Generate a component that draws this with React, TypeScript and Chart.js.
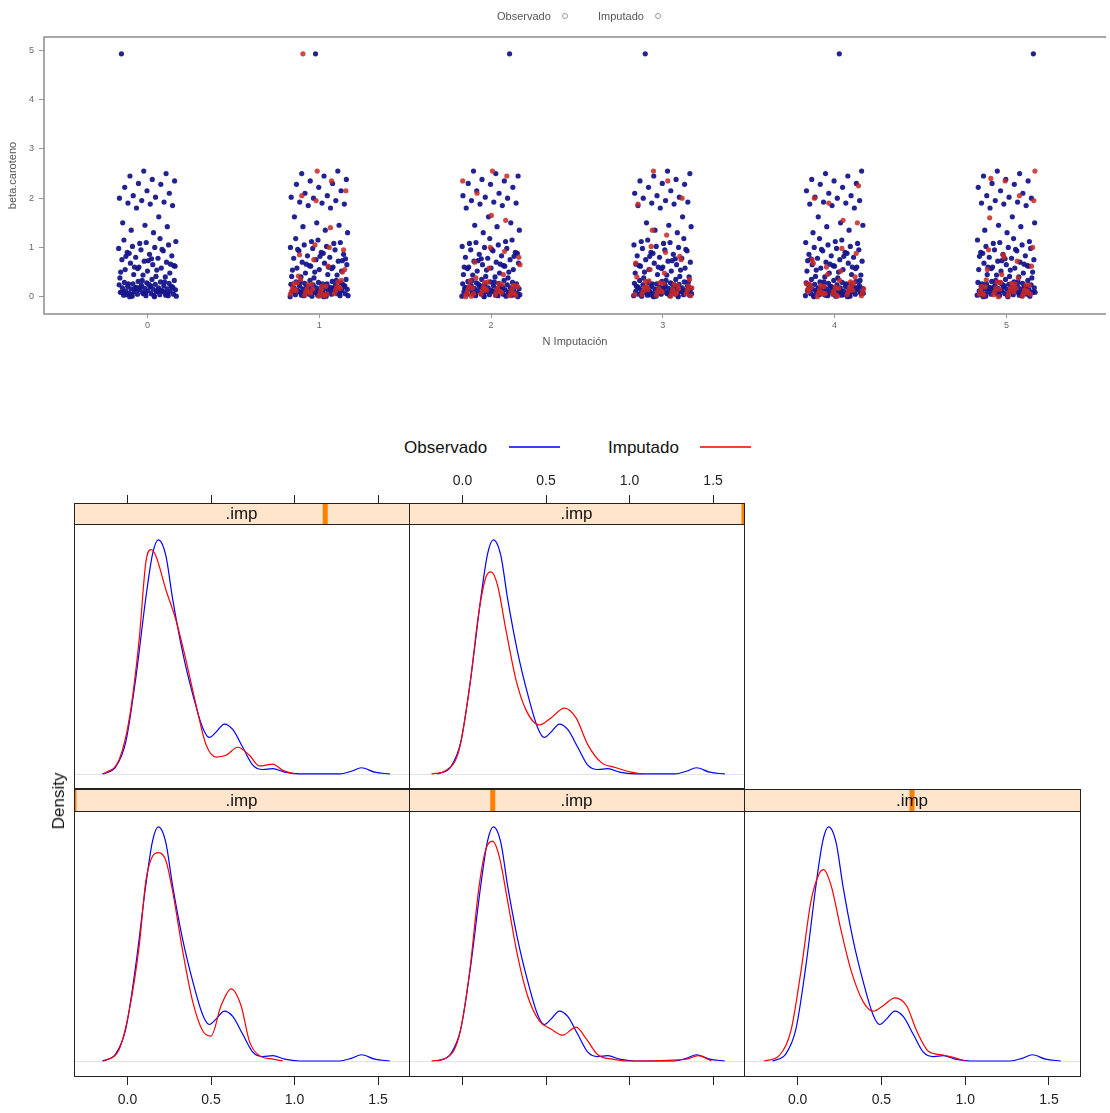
import React, { useEffect, useRef } from 'react';
import { Chart, registerables } from 'chart.js';

Chart.register(...registerables);
Chart.defaults.font.family = '"Liberation Sans", Arial, Helvetica, sans-serif';

// ---------------- Strip plot (top) data ----------------
const imputationNumbers = [0, 1, 2, 3, 4, 5];
const betaTicks = [0, 1, 2, 3, 4, 5];

const observedBeta = [
  0.0, 0.01, 0.02, 0.02, 0.03, 0.04, 0.05, 0.05, 0.06, 0.07, 0.08, 0.08, 0.09, 0.1, 0.1, 0.11,
  0.12, 0.12, 0.13, 0.14, 0.14, 0.15, 0.16, 0.16, 0.17, 0.18, 0.18, 0.19, 0.2, 0.2, 0.21, 0.22,
  0.23, 0.24, 0.25, 0.26, 0.27, 0.28, 0.29, 0.3, 0.31, 0.33, 0.35, 0.0, 0.03, 0.06, 0.09, 0.13,
  0.17, 0.21, 0.25, 0.04, 0.11, 0.19, 0.01, 0.02, 0.04, 0.06, 0.07, 0.09, 0.12, 0.15, 0.18, 0.22,
  0.26, 0.3, 0.33,
  0.38, 0.41, 0.45, 0.48, 0.52, 0.55, 0.58, 0.6, 0.62, 0.65, 0.68, 0.7, 0.72, 0.75, 0.78, 0.8,
  0.83, 0.86, 0.9, 0.93, 0.95, 0.98, 1.0, 1.02, 1.05, 1.1, 1.15, 1.18, 0.57, 0.63, 0.77, 0.88,
  0.4, 0.44, 0.5, 0.54, 0.6, 0.66, 0.73, 0.82, 0.96, 1.08, 1.12,
  1.3, 1.35, 1.42, 1.45, 1.5, 1.62, 1.8, 1.85, 1.88, 1.9, 1.92, 1.95, 2.0, 2.02, 2.05, 2.1, 2.15,
  2.22, 2.28, 2.3, 2.35, 2.38, 2.45, 2.5, 2.55,
  4.93,
];
const imputedBeta1 = [0.01, 0.03, 0.05, 0.06, 0.08, 0.1, 0.11, 0.13, 0.15, 0.16, 0.18, 0.2, 0.22, 0.24, 0.27, 0.3, 0.04, 0.09, 0.14, 0.19, 0.02, 0.07, 0.12, 0.17, 0.21, 0.25, 0.28, 0.33, 0.05, 0.15, 0.42, 0.5, 0.62, 0.75, 0.85, 0.95, 1.0, 1.05, 0.35, 0.55, 1.4, 1.95, 2.05, 2.15, 2.35, 2.55, 4.93];
const imputedBeta2 = [0.0, 0.02, 0.04, 0.05, 0.07, 0.09, 0.1, 0.12, 0.14, 0.15, 0.17, 0.19, 0.21, 0.23, 0.26, 0.29, 0.32, 0.06, 0.11, 0.16, 0.01, 0.03, 0.08, 0.13, 0.18, 0.22, 0.25, 0.3, 0.06, 0.2, 0.45, 0.58, 0.7, 0.8, 0.92, 1.0, 0.38, 0.65, 1.55, 1.65, 2.1, 2.35, 2.45, 2.55];
const imputedBeta3 = [0.01, 0.03, 0.04, 0.06, 0.08, 0.09, 0.11, 0.13, 0.15, 0.17, 0.19, 0.22, 0.25, 0.28, 0.31, 0.35, 0.05, 0.12, 0.2, 0.02, 0.07, 0.1, 0.14, 0.18, 0.23, 0.27, 0.32, 0.04, 0.16, 0.48, 0.55, 0.68, 0.82, 0.9, 1.02, 0.4, 0.75, 1.25, 1.35, 1.88, 2.0, 2.35, 2.55];
const imputedBeta4 = [0.0, 0.02, 0.04, 0.06, 0.07, 0.09, 0.1, 0.12, 0.14, 0.16, 0.18, 0.2, 0.23, 0.26, 0.3, 0.03, 0.08, 0.15, 0.22, 0.01, 0.05, 0.11, 0.13, 0.17, 0.21, 0.25, 0.28, 0.33, 0.06, 0.19, 0.4, 0.52, 0.6, 0.75, 0.88, 0.98, 0.45, 0.68, 1.5, 1.55, 1.9, 2.0, 2.25];
const imputedBeta5 = [0.01, 0.02, 0.04, 0.05, 0.07, 0.09, 0.11, 0.13, 0.14, 0.16, 0.18, 0.21, 0.24, 0.27, 0.3, 0.06, 0.12, 0.19, 0.0, 0.03, 0.08, 0.1, 0.15, 0.2, 0.23, 0.26, 0.29, 0.34, 0.05, 0.17, 0.45, 0.55, 0.62, 0.72, 0.85, 0.95, 1.0, 0.38, 0.8, 1.6, 1.95, 2.05, 2.35, 2.4, 2.55];
const imputedByNumber: number[][] = [[], imputedBeta1, imputedBeta2, imputedBeta3, imputedBeta4, imputedBeta5];

// ---------------- Density panels data ----------------
const densityTicks = [0, 0.5, 1.0, 1.5];

const obsDensX = [-0.15, -0.07, -0.01, 0.05, 0.11, 0.15, 0.185, 0.23, 0.27, 0.33, 0.39, 0.45, 0.49, 0.53, 0.58, 0.63, 0.69, 0.75, 0.81, 0.87, 0.94, 1.03, 1.27, 1.34, 1.4, 1.48, 1.57];
const obsDensY = [0, 0.08, 0.36, 1.08, 1.98, 2.47, 2.63, 2.45, 1.97, 1.37, 0.9, 0.52, 0.41, 0.47, 0.56, 0.5, 0.3, 0.1, 0.05, 0.06, 0.02, 0, 0, 0.03, 0.07, 0.02, 0];

const impDens1X = [-0.14, -0.05, 0.01, 0.07, 0.11, 0.15, 0.185, 0.23, 0.27, 0.33, 0.39, 0.45, 0.5, 0.56, 0.62, 0.68, 0.73, 0.79, 0.87, 0.93];
const impDens1Y = [0, 0.13, 0.56, 1.29, 2.02, 2.3, 2.34, 2.25, 1.91, 1.24, 0.67, 0.34, 0.28, 0.62, 0.81, 0.62, 0.22, 0.06, 0.02, 0];

const impDens2X = [-0.185, -0.1, -0.02, 0.04, 0.1, 0.14, 0.18, 0.22, 0.27, 0.33, 0.39, 0.46, 0.53, 0.6, 0.68, 0.74, 0.81, 0.9, 0.98, 1.07, 1.34, 1.41, 1.49];
const impDens2Y = [0, 0.03, 0.28, 0.96, 1.97, 2.38, 2.47, 2.3, 1.8, 1.18, 0.73, 0.45, 0.36, 0.29, 0.38, 0.25, 0.07, 0.02, 0, 0, 0.02, 0.06, 0];

const impDens3X = [-0.2, -0.11, -0.04, 0.02, 0.08, 0.13, 0.155, 0.2, 0.26, 0.32, 0.39, 0.45, 0.51, 0.58, 0.65, 0.71, 0.78, 0.86, 0.93, 1.0];
const impDens3Y = [0, 0.06, 0.34, 1.01, 1.8, 2.11, 2.15, 1.97, 1.46, 1.01, 0.67, 0.56, 0.62, 0.71, 0.62, 0.34, 0.11, 0.07, 0.04, 0];

const impDens4X = [-0.14, -0.05, 0.01, 0.07, 0.11, 0.14, 0.17, 0.23, 0.29, 0.35, 0.41, 0.47, 0.53, 0.59, 0.66, 0.73, 0.79, 0.87, 0.93, 1.0];
const impDens4Y = [0, 0.16, 0.61, 1.51, 2.38, 2.52, 2.45, 2.07, 1.73, 1.28, 0.78, 0.33, 0.19, 0.21, 0.3, 0.21, 0.09, 0.11, 0.04, 0];

const impDens5X = [-0.185, -0.1, -0.02, 0.04, 0.1, 0.14, 0.17, 0.21, 0.26, 0.32, 0.38, 0.46, 0.53, 0.61, 0.68, 0.75, 0.83, 0.92, 1.01, 1.07];
const impDens5Y = [0, 0.04, 0.27, 0.94, 1.84, 2.21, 2.27, 2.12, 1.62, 1.06, 0.72, 0.55, 0.63, 0.74, 0.63, 0.33, 0.13, 0.07, 0.02, 0];

const FONT = '"Liberation Sans", Arial, Helvetica, sans-serif';

// deterministic horizontal spread (visual jitter only)
const jitterObs = (i: number, k: number) => ((((i + 1) * 0.6180339887 + k * 0.3819660113) % 1) - 0.5) * 0.34;
const jitterImp = (i: number, k: number) => ((((i + 1) * 0.7548776662 + k * 0.569840291 + 0.17) % 1) - 0.5) * 0.34;

function StripChart() {
  const ref = useRef<HTMLCanvasElement>(null);
  useEffect(() => {
    const obsPts: { x: number; y: number }[] = [];
    imputationNumbers.forEach((k) => observedBeta.forEach((v, i) => obsPts.push({ x: k + jitterObs(i, k), y: v })));
    const impPts: { x: number; y: number }[] = [];
    imputationNumbers.forEach((k) => imputedByNumber[k].forEach((v, i) => impPts.push({ x: k + jitterImp(i, k), y: v })));

    const framePlugin = {
      id: 'frame',
      afterDraw(c: any) {
        const { ctx, chartArea: a } = c;
        ctx.save();
        ctx.strokeStyle = '#8c8c8c';
        ctx.lineWidth = 1.5;
        ctx.beginPath();
        ctx.moveTo(a.right, a.top);
        ctx.lineTo(a.left, a.top);
        ctx.lineTo(a.left, a.bottom);
        ctx.lineTo(a.right, a.bottom);
        ctx.stroke();
        ctx.restore();
      },
    };

    const chart = new Chart(ref.current as HTMLCanvasElement, {
      type: 'scatter',
      data: {
        datasets: [
          { label: 'Observado', order: 1, data: obsPts, backgroundColor: 'rgba(22,22,140,0.95)', pointRadius: 2.6, borderWidth: 0 },
          { label: 'Imputado', order: 0, data: impPts, backgroundColor: 'rgba(200,40,35,0.85)', pointRadius: 2.6, borderWidth: 0 },
        ],
      },
      options: {
        animation: false,
        responsive: false,
        maintainAspectRatio: false,
        layout: { padding: { top: 37, right: 0, left: 0, bottom: 0 } },
        plugins: { legend: { display: false }, tooltip: { enabled: false } },
        scales: {
          x: {
            type: 'linear',
            min: -0.603,
            max: 5.58,
            afterBuildTicks: (s: any) => { s.ticks = imputationNumbers.map((v) => ({ value: v })); },
            afterFit: (s: any) => { s.height = 46; },
            grid: { drawOnChartArea: false, drawTicks: true, tickLength: 4, color: '#999' },
            border: { display: false },
            ticks: { font: { size: 9 }, color: '#666', padding: 2, maxRotation: 0, autoSkip: false, callback: (v: any) => String(v) },
            title: { display: true, text: 'N Imputación', font: { size: 11 }, color: '#555', padding: { top: 0, bottom: 11 } },
          },
          y: {
            type: 'linear',
            min: -0.352,
            max: 5.272,
            afterBuildTicks: (s: any) => { s.ticks = betaTicks.map((v) => ({ value: v })); },
            afterFit: (s: any) => { s.width = 44; },
            grid: { drawOnChartArea: false, drawTicks: true, tickLength: 5, color: '#999' },
            border: { display: false },
            ticks: { font: { size: 9 }, color: '#666', padding: 5, callback: (v: any) => String(v) },
            title: { display: true, text: 'beta.caroteno', font: { size: 11 }, color: '#555', padding: { top: 6, bottom: 0 } },
          },
        },
      },
      plugins: [framePlugin],
    } as any);
    return () => chart.destroy();
  }, []);
  return <canvas ref={ref} width={1110} height={360} style={{ position: 'absolute', left: 0, top: 0, width: 1110, height: 360 }} />;
}

type PanelProps = {
  areaLeft: number;
  areaRight: number;
  row: 'top' | 'bottom';
  labels: boolean;
  level: number;
  impX: number[];
  impY: number[];
};

function DensityPanel({ areaLeft, areaRight, row, labels, level, impX, impY }: PanelProps) {
  const ref = useRef<HTMLCanvasElement>(null);
  const isTop = row === 'top';
  const canvasTop = isTop ? 440 : 780;
  const canvasH = isTop ? 352 : 333;
  const canvasLeft = areaLeft - 20;
  const canvasW = areaRight - areaLeft + 40;

  useEffect(() => {
    const areaH = isTop ? 286 : 288;
    const yMin = isTop ? -0.169 : -0.18;
    const yMax = yMin + areaH / 89;
    const stripH = isTop ? 21 : 22;

    const panelPlugin = {
      id: 'panel',
      beforeDatasetsDraw(c: any) {
        const { ctx, chartArea: a, scales } = c;
        const y0 = Math.round(scales.y.getPixelForValue(0)) + 0.5;
        ctx.save();
        ctx.strokeStyle = '#e3e3e3';
        ctx.lineWidth = 1;
        ctx.beginPath();
        ctx.moveTo(a.left, y0);
        ctx.lineTo(a.right, y0);
        ctx.stroke();
        ctx.restore();
      },
      afterDraw(c: any) {
        const { ctx, chartArea: a } = c;
        ctx.save();
        ctx.fillStyle = '#ffe5cc';
        ctx.fillRect(a.left, a.top, a.width, stripH);
        ctx.save();
        ctx.beginPath();
        ctx.rect(a.left, a.top, a.width, stripH);
        ctx.clip();
        const cx = a.left + ((level - 1) / 4) * a.width;
        ctx.fillStyle = '#ff8000';
        ctx.fillRect(cx - 2.5, a.top, 5, stripH);
        ctx.restore();
        ctx.fillStyle = '#111';
        ctx.font = '17px ' + FONT;
        ctx.textAlign = 'center';
        ctx.textBaseline = 'middle';
        ctx.fillText('.imp', a.left + a.width / 2, a.top + stripH / 2 + 1);
        ctx.strokeStyle = '#222';
        ctx.lineWidth = 1;
        ctx.strokeRect(Math.round(a.left) + 0.5, Math.round(a.top) + 0.5, Math.round(a.width), Math.round(a.height) - 1);
        ctx.beginPath();
        ctx.moveTo(a.left, Math.round(a.top + stripH) + 0.5);
        ctx.lineTo(a.right, Math.round(a.top + stripH) + 0.5);
        ctx.stroke();
        ctx.restore();
      },
    };

    const chart = new Chart(ref.current as HTMLCanvasElement, {
      type: 'line',
      data: {
        datasets: [
          { label: 'Observado', order: 1, data: obsDensX.map((x, i) => ({ x, y: obsDensY[i] })), borderColor: '#0000ff', borderWidth: 1.2, pointRadius: 0, cubicInterpolationMode: 'monotone', fill: false },
          { label: 'Imputado', order: 0, data: impX.map((x, i) => ({ x, y: impY[i] })), borderColor: '#ff0000', borderWidth: 1.2, pointRadius: 0, cubicInterpolationMode: 'monotone', fill: false },
        ],
      },
      options: {
        animation: false,
        responsive: false,
        maintainAspectRatio: false,
        layout: { padding: isTop ? { top: 0, bottom: 3, left: 20, right: 20 } : { top: 9, bottom: 0, left: 20, right: 20 } },
        plugins: { legend: { display: false }, tooltip: { enabled: false } },
        scales: {
          x: {
            type: 'linear',
            position: isTop ? 'top' : 'bottom',
            min: -0.32,
            max: 1.685,
            afterBuildTicks: (s: any) => { s.ticks = densityTicks.map((v) => ({ value: v })); },
            afterFit: (s: any) => { s.height = isTop ? 63 : 36; },
            grid: { drawOnChartArea: false, drawTicks: true, tickLength: 8, color: '#222', lineWidth: 1 },
            border: { display: false },
            ticks: {
              padding: isTop ? 5 : 7,
              color: '#222',
              font: { size: 14 },
              maxRotation: 0,
              autoSkip: false,
              callback: (v: any) => (labels ? Number(v).toFixed(1) : ''),
            },
          },
          y: { type: 'linear', display: false, min: yMin, max: yMax },
        },
      },
      plugins: [panelPlugin],
    } as any);
    return () => chart.destroy();
  }, []);

  return (
    <canvas
      ref={ref}
      width={canvasW}
      height={canvasH}
      style={{ position: 'absolute', left: canvasLeft, top: canvasTop, width: canvasW, height: canvasH }}
    />
  );
}

export default function App() {
  useEffect(() => {
    document.body.style.margin = '0';
    document.body.style.background = '#fff';
  }, []);
  const small: React.CSSProperties = { position: 'absolute', fontFamily: FONT, fontSize: 11, color: '#555', whiteSpace: 'nowrap', lineHeight: '12px' };
  const big: React.CSSProperties = { position: 'absolute', fontFamily: FONT, fontSize: 17, color: '#111', whiteSpace: 'nowrap', lineHeight: '20px' };
  const ring: React.CSSProperties = { position: 'absolute', width: 4, height: 4, borderRadius: '50%', border: '1px solid #999' };
  return (
    <div style={{ position: 'absolute', left: 0, top: 0, width: 1110, height: 1113, background: '#fff', overflow: 'hidden' }}>
      <StripChart />
      {/* top legend */}
      <div style={{ ...small, left: 497, top: 10 }}>Observado</div>
      <div style={{ ...ring, left: 562, top: 13 }} />
      <div style={{ ...small, left: 598, top: 10 }}>Imputado</div>
      <div style={{ ...ring, left: 655, top: 13 }} />

      {/* density legend */}
      <div style={{ ...big, left: 404, top: 438 }}>Observado</div>
      <div style={{ position: 'absolute', left: 509, top: 446, width: 51, height: 2, backgroundColor: 'rgb(60,60,255)' }} />
      <div style={{ ...big, left: 608, top: 438 }}>Imputado</div>
      <div style={{ position: 'absolute', left: 700, top: 446, width: 51, height: 2, backgroundColor: 'rgb(255,60,60)' }} />

      <DensityPanel areaLeft={74} areaRight={409} row="top" labels={false} level={4} impX={impDens4X} impY={impDens4Y} />
      <DensityPanel areaLeft={409} areaRight={744} row="top" labels={true} level={5} impX={impDens5X} impY={impDens5Y} />
      <DensityPanel areaLeft={74} areaRight={409} row="bottom" labels={true} level={1} impX={impDens1X} impY={impDens1Y} />
      <DensityPanel areaLeft={409} areaRight={744} row="bottom" labels={false} level={2} impX={impDens2X} impY={impDens2Y} />
      <DensityPanel areaLeft={744} areaRight={1080} row="bottom" labels={true} level={3} impX={impDens3X} impY={impDens3Y} />

      <div style={{ ...big, left: 59, top: 801, transform: 'translate(-50%, -50%) rotate(-90deg)' }}>Density</div>
    </div>
  );
}
